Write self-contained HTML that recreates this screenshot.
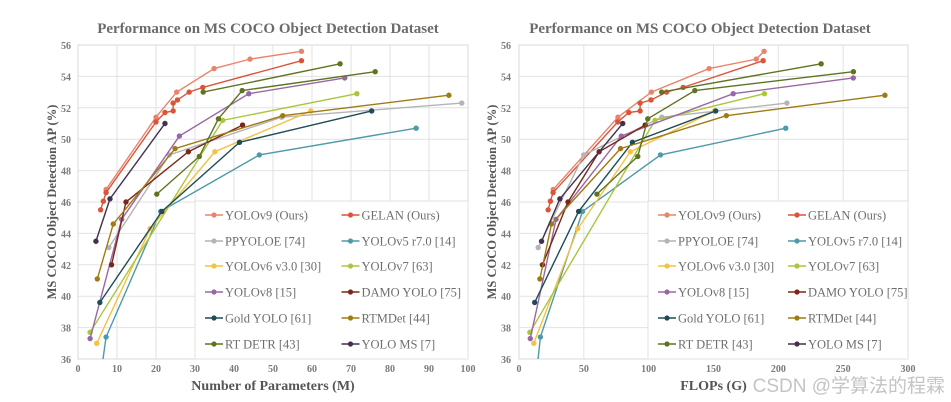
<!DOCTYPE html>
<html><head><meta charset="utf-8"><style>
html,body{margin:0;padding:0;background:#fff;width:951px;height:402px;overflow:hidden}
svg{display:block;overflow:hidden}
text{font-family:"Liberation Serif",serif}
</style></head><body>
<svg id="c" width="951" height="402" viewBox="0 0 951 402" xmlns="http://www.w3.org/2000/svg"></svg>
<script>
// ---- data ----
const seriesNames=["YOLOv9 (Ours)","GELAN (Ours)","PPYOLOE [74]","YOLOv5 r7.0 [14]","YOLOv6 v3.0 [30]","YOLOv7 [63]","YOLOv8 [15]","DAMO YOLO [75]","Gold YOLO [61]","RTMDet [44]","RT DETR [43]","YOLO MS [7]"];
const seriesColors=["#e8846c","#d9553a","#b4b4b4","#4d9aa9","#f4c244","#a9c63c","#9a67a6","#7a2818","#1f4c58","#a07a12","#5f7422","#43304c"];
const yTicks=[36,38,40,42,44,46,48,50,52,54,56];
const paramTicks=[0,10,20,30,40,50,60,70,80,90,100];
const flopTicks=[0,50,100,150,200,250,300];
// AP values
const apYOLOv9=[46.8,51.4,53.0,54.5,55.1,55.6];
const apGELAN=[45.5,46.05,46.6,51.1,51.7,51.8,52.3,52.5,53.0,53.3,55.0];
const apPPYOLOE=[43.1,49.0,51.4,52.3];
const apYOLOv5=[28.0,37.4,45.4,49.0,50.7];
const apYOLOv6=[37.0,44.3,49.2,51.8];
const apYOLOv7=[37.7,51.2,52.9];
const apYOLOv8=[37.3,44.9,50.2,52.9,53.9];
const apDAMO=[42.0,46.0,49.2,50.9];
const apGold=[39.6,45.4,49.8,51.8];
const apRTMDet=[41.1,44.6,49.4,51.5,52.8];
const apRTDETR=[46.5,48.9,51.3,53.1,54.3];
const apRTDETR2=[53.0,54.8];
const apYOLOMS=[43.5,46.2,51.0];
// parameters (M)
const pYOLOv9=[7.2,20.0,25.3,34.9,44.1,57.3];
const pGELAN=[5.8,6.5,7.2,20.0,22.3,24.4,24.4,25.5,28.5,32.0,57.3];
const pPPYOLOE=[7.9,23.4,52.2,98.4];
const pYOLOv5=[1.9,7.2,21.2,46.5,86.7];
const pYOLOv6=[4.8,18.5,35.1,59.7];
const pYOLOv7=[3.1,37.1,71.5];
const pYOLOv8=[3.1,11.2,26.0,43.8,68.4];
const pDAMO=[8.6,12.3,28.3,42.2];
const pGold=[5.6,21.5,41.4,75.3];
const pRTMDet=[4.95,9.05,24.9,52.5,95.1];
const pRTDETR=[20.2,31.1,36.0,42.1,76.2];
const pRTDETR2=[32.1,67.2];
const pYOLOMS=[4.6,8.2,22.3];
// FLOPs (G)
const fYOLOv9=[26.4,76.3,102.1,146.6,183.0,189.0];
const fGELAN=[22.5,24.2,26.3,76.2,84.7,93.4,93.4,101.8,113.8,126.6,188.3];
const fPPYOLOE=[14.8,49.9,110.1,206.6];
const fYOLOv5=[4.5,16.5,49.0,109.1,205.7];
const fYOLOv6=[11.4,45.3,85.8,150.7];
const fYOLOv7=[8.4,104.9,189.3];
const fYOLOv8=[8.7,28.6,78.9,165.2,257.8];
const fDAMO=[18.1,37.8,61.8,97.3];
const fGold=[12.1,46.0,87.5,151.7];
const fRTMDet=[16.1,25.1,78.3,159.9,282.2];
const fRTDETR=[60.1,91.6,99.3,135.6,257.9];
const fRTDETR2=[110.0,233.0];
const fYOLOMS=[17.4,31.5,80.0];

const apList=[apYOLOv9,apGELAN,apPPYOLOE,apYOLOv5,apYOLOv6,apYOLOv7,apYOLOv8,apDAMO,apGold,apRTMDet,apRTDETR,apYOLOMS];
const pList=[pYOLOv9,pGELAN,pPPYOLOE,pYOLOv5,pYOLOv6,pYOLOv7,pYOLOv8,pDAMO,pGold,pRTMDet,pRTDETR,pYOLOMS];
const fList=[fYOLOv9,fGELAN,fPPYOLOE,fYOLOv5,fYOLOv6,fYOLOv7,fYOLOv8,fDAMO,fGold,fRTMDet,fRTDETR,fYOLOMS];

const NS="http://www.w3.org/2000/svg";
const svg=document.getElementById('c');
function mk(tag,attrs,parent){const e=document.createElementNS(NS,tag);for(const k in attrs)e.setAttribute(k,attrs[k]);(parent||svg).appendChild(e);return e;}
function slug(s){return s.toLowerCase().replace(/[^a-z0-9]+/g,'-').replace(/^-|-$/g,'');}

function panel(id,x0,x1,xmax,xTicks,xList,x2,xTitle,titleCx,yTitleX,yLabX,legX0){
  const top=45,bot=359;
  const g=mk('g',{});
  
  
  const xs=v=>x0+(v/xmax)*(x1-x0);
  const ys=v=>bot-(v-36)/20*(bot-top);
  const cid='clip-'+id;
  const cp=mk('clipPath',{id:cid},g);mk('rect',{x:x0,y:top-4,width:x1-x0+4,height:bot-top+4},cp);
  yTicks.forEach(t=>{const l=mk('line',{x1:x0,x2:x1,y1:ys(t),y2:ys(t),stroke:'#e2e2e2','stroke-width':1},g);
    
    const tx=mk('text',{x:yLabX,y:ys(t)+4,'text-anchor':'end','font-size':10,'font-weight':'bold',fill:'#7a7a7a'},g);tx.textContent=t;
    });
  xTicks.forEach(t=>{const l=mk('line',{x1:xs(t),x2:xs(t),y1:top,y2:bot,stroke:'#e2e2e2','stroke-width':1},g);
    
    const tx=mk('text',{x:xs(t),y:372,'text-anchor':'middle','font-size':10,'font-weight':'bold',fill:'#7a7a7a'},g);tx.textContent=t;
    });
  const ax=mk('rect',{x:x0,y:top,width:x1-x0,height:bot-top,fill:'none',stroke:'#d8d8d8'},g);
  
  const sg=mk('g',{'clip-path':'url(#'+cid+')'},g);
  function drawLine(xv,yv,col,name){
    const pts=xv.map((v,i)=>xs(v)+','+ys(yv[i])).join(' ');
    const pl=mk('polyline',{points:pts,fill:'none',stroke:col,'stroke-width':1.4},sg);
    
    xv.forEach((v,i)=>{const c=mk('circle',{cx:xs(v),cy:ys(yv[i]),r:2.7,fill:col},sg);
      });
  }
  for(let s=0;s<12;s++){
    drawLine(xList[s],apList[s],seriesColors[s],slug(seriesNames[s]));
    if(s===10) drawLine(x2,apRTDETR2,seriesColors[s],'rt-detr-lx');
  }
  const lg=mk('g',{},g);
  
  mk('rect',{x:legX0,y:201,width:x1-legX0,height:bot-201,fill:'#fff',stroke:'#e0e0e0'},lg);
  const rowY=[215,241,266,292,318,344];
  const colW=(x1-legX0)/2;
  seriesNames.forEach((n,i)=>{
    const cx=legX0+10+(i%2)*colW, cy=rowY[Math.floor(i/2)];
    const e=mk('g',{},lg);
    
    mk('line',{x1:cx,x2:cx+18,y1:cy,y2:cy,stroke:seriesColors[i],'stroke-width':1.5},e);
    mk('circle',{cx:cx+9,cy:cy,r:2.6,fill:seriesColors[i]},e);
    const t=mk('text',{x:cx+20,y:cy+4.5,'font-size':12.5,fill:'#6e6e6e'},e);t.textContent=n;
  });
  const tt=mk('text',{x:titleCx,y:33,'text-anchor':'middle','font-size':15,'font-weight':'bold',fill:'#6b6b6b'},g);
  tt.textContent='Performance on MS COCO Object Detection Dataset';
  
  const yt=mk('text',{x:0,y:0,'text-anchor':'middle','font-size':12.5,'font-weight':'bold',fill:'#555',transform:'translate('+yTitleX+',202) rotate(-90)'},g);
  yt.textContent='MS COCO Object Detection AP (%)';
  
  const xt=mk('text',{x:(x0+x1)/2,y:390,'text-anchor':'middle','font-size':14,'font-weight':'bold',fill:'#555'},g);
  xt.textContent=xTitle;
  
}
panel('params',78,468,100,paramTicks,pList,pRTDETR2,'Number of Parameters (M)',268,56,71,195);
panel('flops',519,908,300,flopTicks,fList,fRTDETR2,'FLOPs (G)',700,496,511,648);
const wm=mk('text',{x:945,y:392,'text-anchor':'end','font-size':19,fill:'#c4c4c4'});
wm.setAttribute('style','font-family:"Liberation Sans","Noto Sans CJK SC",sans-serif');
wm.textContent='CSDN @学算法的程霖';


</script>
</body></html>
